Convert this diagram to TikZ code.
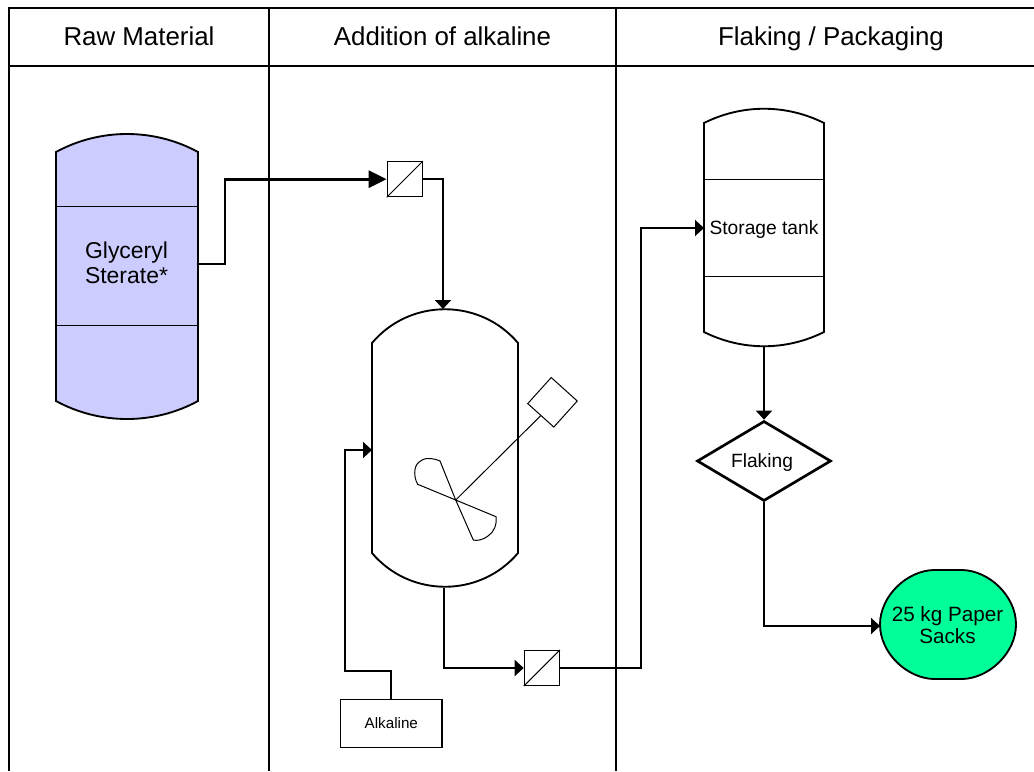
\documentclass[tikz,border=0pt]{standalone}
\usepackage{fontspec}
\setmainfont{Liberation Sans}
\usetikzlibrary{arrows.meta,shapes.geometric}
\definecolor{tankblue}{HTML}{CCCCFF}
\definecolor{sackgreen}{HTML}{00FF99}
\tikzset{
  grid line/.style={line width=1.1pt},
  vessel/.style={line width=1.4pt},
  band/.style={line width=0.75pt},
  thin part/.style={line width=0.75pt},
  valve/.style={draw,line width=0.9pt,fill=white,minimum width=26.25pt,minimum height=26.25pt,inner sep=0pt},
  pipe/.style={line width=1.4pt,line join=miter},
  heavy pipe/.style={line width=2.1pt,line join=miter},
  tip/.style={-{Triangle[length=6.75pt,width=12pt]}},
  big tip/.style={-{Triangle[length=13.5pt,width=12.75pt]}},
  head label/.style={font=\fontsize{19.4}{22}\selectfont,inner sep=0pt,anchor=base},
}
\begin{document}
\begin{tikzpicture}[x=0.75pt,y=-0.75pt]
\useasboundingbox (0,0) rectangle (1034,771);
% swimlane grid
\draw[grid line] (9,771) -- (9,8) -- (1034,8);
\draw[grid line] (9,66) -- (1034,66);
\draw[grid line] (269,8) -- (269,771);
\draw[grid line] (616,8) -- (616,771);
\node[head label] (h1) at (139,45) {Raw Material};
\node[head label] (h2) at (442.5,45) {Addition of alkaline};
\node[head label] (h3) at (831,45) {Flaking / Packaging};
% raw material tank
\draw[vessel,fill=tankblue] (56,152) .. controls (100,128) and (154,128) .. (198,152)
  -- (198,401) .. controls (154,425) and (100,425) .. (56,401) -- cycle;
\draw[band] (56,206) -- (198,206);
\draw[band] (56,325) -- (198,325);
\node[align=center,font=\fontsize{17.2}{19}\selectfont,inner sep=0pt] (tankA) at (126.5,262.5) {Glyceryl\\Sterate*};
\coordinate (tankAout) at (198,264);
% reactor
\draw[vessel] (372,343) .. controls (410,298) and (480,298) .. (518,343)
  -- (518,553) .. controls (480,598) and (410,598) .. (372,553) -- cycle;
\coordinate (reactorTop) at (443,309);
\coordinate (reactorBottom) at (444,588);
\coordinate (reactorSide) at (372,450);
% stirrer
\coordinate (hub) at (455.7,500);
\node[draw,thin part,diamond,shape aspect=1,rotate=3,minimum width=37.5pt,minimum height=37.5pt,inner sep=0pt,fill=white] (motor) at (552.5,402.3) {};
\draw[thin part] (hub) -- (540.7,415.7);
\draw[thin part] (hub) -- (440,461) .. controls (433,458) and (424,457) .. (419,462)
  .. controls (413,467) and (414,478) .. (417.7,484.3) -- cycle;
\draw[thin part] (hub) -- (496,516.7) .. controls (497,525) and (494,532) .. (488,536)
  .. controls (483,540) and (477,541) .. (473.3,540) -- cycle;
% valves
\node[valve] (v1) at (404.8,179.2) {};
\draw[thin part] (v1.south west) -- (v1.north east);
\node[valve] (v2) at (541.8,668) {};
\draw[thin part] (v2.south west) -- (v2.north east);
% alkaline box
\node[draw,line width=0.8pt,minimum width=76pt,minimum height=36.3pt,inner sep=0pt,font=\fontsize{11.4}{14}\selectfont] (alk) at (391.3,723.5) {Alkaline};
% storage tank
\draw[vessel] (704,123) .. controls (742,104) and (786,104) .. (824,123)
  -- (824,332) .. controls (786,351) and (742,351) .. (704,332) -- cycle;
\draw[band] (704,179) -- (824,179);
\draw[band] (704,276) -- (824,276);
\node[font=\fontsize{14.4}{17}\selectfont,inner sep=0pt] (store) at (764,230) {Storage tank};
\coordinate (storeIn) at (704,228);
\coordinate (storeOut) at (764,347);
% flaking
\node[draw,line width=2pt,diamond,shape aspect=1.675,minimum width=100.5pt,minimum height=60pt,inner sep=0pt] (flake) at (764,461) {};
\node[font=\fontsize{14.4}{17}\selectfont,inner sep=0pt] (flakeText) at (762,462.5) {Flaking};
% sacks
\draw[vessel,fill=sackgreen] (934,570) -- (962,570) .. controls (989,570.5) and (1016,596) .. (1016,624.5)
  .. controls (1016,653) and (989,678.5) .. (962,679) -- (934,679)
  .. controls (907,678.5) and (880,653) .. (880,624.5) .. controls (880,596) and (907,570.5) .. (934,570) -- cycle;
\node[align=center,font=\fontsize{15.5}{17}\selectfont,inner sep=0pt] (sacks) at (947.5,625) {25 kg Paper\\Sacks};
\coordinate (sacksIn) at (880,626);
% connectors
\draw[heavy pipe,big tip] (tankAout) -- (225,264) -- (225,179.2) -- (v1.west);
\draw[pipe,tip] (v1.east) -- (443,179.2) -- (reactorTop);
\draw[pipe,tip] (reactorBottom) -- (444,668) -- (v2.west);
\draw[pipe,tip] (v2.east) -- (641,668) -- (641,228) -- (storeIn);
\draw[pipe,tip] (alk.north) -- (391.3,671) -- (345,671) -- (345,450) -- (reactorSide);
\draw[pipe,tip] (storeOut) -- (flake.north);
\draw[pipe,tip] (flake.south) -- (764,626) -- (sacksIn);
\end{tikzpicture}
\end{document}
